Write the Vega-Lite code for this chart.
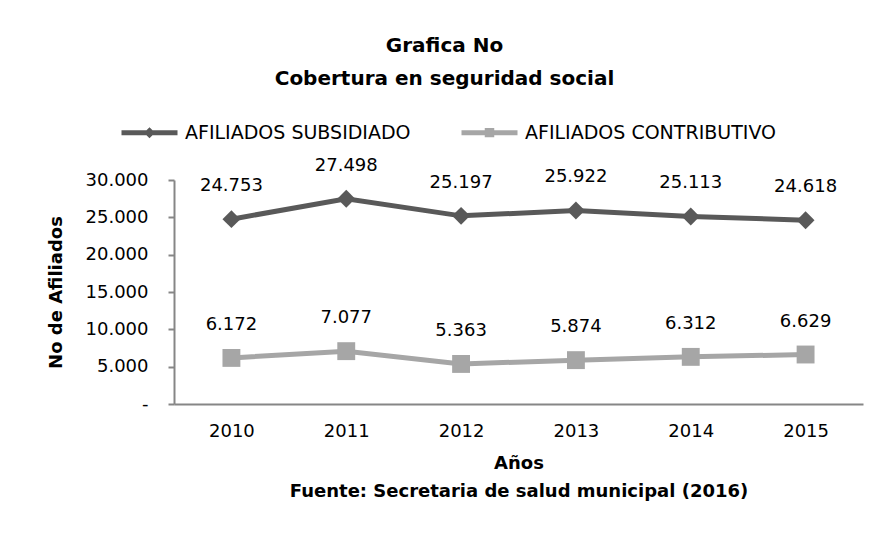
{
  "$schema": "https://vega.github.io/schema/vega-lite/v6.json",
  "width": 689,
  "height": 224,
  "autosize": {"type": "none"},
  "padding": {"left": 174, "top": 180, "right": 25, "bottom": 130},
  "background": "white",
  "config": {
    "font": "DejaVu Sans",
    "view": {"stroke": null},
    "locale": {"number": {"decimal": ",", "thousands": ".", "grouping": [3], "currency": ["$", ""]}}
  },
  "title": {
    "text": ["Grafica No", "Cobertura en seguridad social"],
    "font": "DejaVu Sans",
    "fontSize": 20,
    "fontWeight": "bold",
    "color": "#000000",
    "lineHeight": 33,
    "anchor": "middle",
    "frame": "group",
    "dx": -74,
    "dy": -9
  },
  "data": {
    "values": [
      {"year": "2010", "serie": "AFILIADOS SUBSIDIADO", "afiliados": 24753},
      {"year": "2011", "serie": "AFILIADOS SUBSIDIADO", "afiliados": 27498},
      {"year": "2012", "serie": "AFILIADOS SUBSIDIADO", "afiliados": 25197},
      {"year": "2013", "serie": "AFILIADOS SUBSIDIADO", "afiliados": 25922},
      {"year": "2014", "serie": "AFILIADOS SUBSIDIADO", "afiliados": 25113},
      {"year": "2015", "serie": "AFILIADOS SUBSIDIADO", "afiliados": 24618},
      {"year": "2010", "serie": "AFILIADOS CONTRIBUTIVO", "afiliados": 6172},
      {"year": "2011", "serie": "AFILIADOS CONTRIBUTIVO", "afiliados": 7077},
      {"year": "2012", "serie": "AFILIADOS CONTRIBUTIVO", "afiliados": 5363},
      {"year": "2013", "serie": "AFILIADOS CONTRIBUTIVO", "afiliados": 5874},
      {"year": "2014", "serie": "AFILIADOS CONTRIBUTIVO", "afiliados": 6312},
      {"year": "2015", "serie": "AFILIADOS CONTRIBUTIVO", "afiliados": 6629}
    ]
  },
  "encoding": {
    "x": {
      "field": "year",
      "type": "ordinal",
      "scale": {"type": "point", "padding": 0.5},
      "axis": {
        "title": ["Años", "Fuente: Secretaria de salud municipal (2016)"],
        "titleFont": "DejaVu Sans",
        "titleFontSize": 18,
        "titleFontWeight": "bold",
        "titleColor": "#000000",
        "titleLineHeight": 28,
        "titlePadding": 14,
        "labelAngle": 0,
        "labelFontSize": 18,
        "labelColor": "#000000",
        "labelPadding": 18,
        "ticks": false,
        "domainColor": "#868686",
        "domainWidth": 2,
        "grid": false
      }
    },
    "y": {
      "field": "afiliados",
      "type": "quantitative",
      "scale": {"domain": [0, 30000], "nice": false},
      "axis": {
        "title": "No de Afiliados",
        "titleFont": "DejaVu Sans",
        "titleFontSize": 18,
        "titleFontWeight": "bold",
        "titleColor": "#000000",
        "titlePadding": 20,
        "values": [0, 5000, 10000, 15000, 20000, 25000, 30000],
        "format": ",d",
        "labelExpr": "datum.value == 0 ? '-' : datum.label",
        "labelFontSize": 18,
        "labelColor": "#000000",
        "labelPadding": 20,
        "tickSize": 6,
        "tickColor": "#868686",
        "tickWidth": 2,
        "domainColor": "#868686",
        "domainWidth": 2,
        "grid": false
      }
    }
  },
  "layer": [
    {
      "mark": {"type": "line", "strokeWidth": 5},
      "encoding": {
        "color": {
          "field": "serie",
          "type": "nominal",
          "sort": ["AFILIADOS SUBSIDIADO", "AFILIADOS CONTRIBUTIVO"],
          "scale": {"domain": ["AFILIADOS SUBSIDIADO", "AFILIADOS CONTRIBUTIVO"], "range": ["#595959", "#a6a6a6"]},
          "legend": {
            "title": null,
            "orient": "none",
            "direction": "horizontal",
            "legendX": -55,
            "legendY": -78,
            "padding": 0,
            "symbolSize": 3136,
            "symbolStrokeWidth": 5,
            "labelFontSize": 19,
            "labelFont": "DejaVu Sans",
            "labelColor": "#000000",
            "labelOffset": 5,
            "columnPadding": 40,
            "labelLimit": 400,
            "encode": {
              "symbols": {
                "update": {
                  "shape": {"signal": "datum.value === 'AFILIADOS SUBSIDIADO' ? 'M-1,0H1M0,-0.07L0.07,0L0,0.07L-0.07,0Z' : 'M-1,0H1M-0.08,-0.08H0.08V0.08H-0.08Z'"},
                  "fill": {"signal": "scale('color', datum.value)"},
                  "stroke": {"signal": "scale('color', datum.value)"},
                  "strokeWidth": {"value": 5},
                  "opacity": {"value": 1}
                }
              }
            }
          }
        }
      }
    },
    {
      "mark": {"type": "point", "filled": true, "opacity": 1, "size": 320},
      "encoding": {
        "color": {"condition": {"test": "datum.serie === 'AFILIADOS SUBSIDIADO'", "value": "#595959"}, "value": "#a6a6a6"},
        "shape": {"condition": {"test": "datum.serie === 'AFILIADOS SUBSIDIADO'", "value": "diamond"}, "value": "square"}
      }
    },
    {
      "mark": {"type": "text", "fontSize": 18, "color": "#000000", "baseline": "middle", "dy": -33},
      "encoding": {
        "text": {"field": "afiliados", "type": "quantitative", "format": ",d"}
      }
    }
  ]
}
